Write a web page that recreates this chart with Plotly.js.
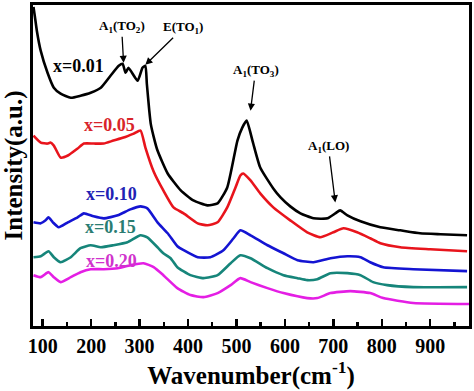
<!DOCTYPE html>
<html>
<head>
<meta charset="utf-8">
<script src="https://cdn.plot.ly/plotly-3.0.1.min.js"></script>
<style>html,body{margin:0;padding:0;background:#fff;}#chart{width:474px;height:391px;}</style>
</head>
<body>
<div id="chart"></div>
<script>
// Raman spectra, intensity in arbitrary units (offset curves)
const seriesNames = ["x=0.01", "x=0.05", "x=0.10", "x=0.15", "x=0.20"];

const wn001  = [81, 84, 88, 96, 110, 123, 137, 158, 178, 199, 220, 240, 257, 265, 271, 277, 296, 306, 312, 315, 320, 323, 329, 337, 358, 385, 411, 440, 461, 481, 502, 512, 521, 533, 549, 576, 591, 611, 632, 659, 688, 704, 714, 729, 756, 797, 838, 879, 921, 976];
const int001 = [320, 310, 296, 276, 254, 239, 233, 229, 231, 234, 239, 251, 261, 263, 254, 259, 246, 259, 261, 243, 216, 203, 190, 176, 153, 136, 126, 121, 123, 139, 186, 199, 206, 186, 159, 138, 129, 120, 113, 108, 108, 113, 116, 111, 105, 99, 96, 93, 92, 91];

const wn005  = [81, 96, 110, 116, 123, 137, 152, 172, 185, 205, 226, 246, 267, 288, 302, 312, 329, 349, 370, 391, 420, 440, 461, 481, 498, 508, 514, 529, 549, 576, 611, 646, 673, 700, 721, 749, 776, 797, 838, 900, 976];
const int005 = [191, 184, 183, 184, 181, 169, 171, 178, 183, 183, 183, 186, 189, 193, 196, 179, 155, 136, 119, 113, 103, 101, 104, 119, 139, 151, 153, 146, 133, 119, 106, 94, 89, 94, 98, 94, 88, 83, 79, 77, 75];

const wn010  = [81, 96, 106, 112, 121, 133, 152, 172, 185, 205, 226, 255, 281, 302, 316, 337, 358, 378, 391, 420, 446, 473, 494, 508, 529, 564, 597, 626, 659, 694, 729, 756, 776, 803, 865, 976];
const int010 = [104, 103, 106, 109, 104, 99, 104, 109, 113, 110, 108, 111, 117, 120, 118, 104, 93, 80, 76, 69, 69, 76, 88, 96, 91, 81, 73, 66, 64, 68, 70, 69, 64, 59, 57, 55];

const wn015  = [81, 96, 112, 123, 137, 158, 178, 199, 220, 246, 275, 302, 316, 337, 349, 364, 378, 405, 432, 461, 488, 508, 529, 564, 597, 626, 646, 667, 694, 729, 756, 782, 811, 865, 976];
const int015 = [69, 70, 75, 69, 64, 69, 78, 81, 79, 81, 84, 91, 89, 79, 73, 68, 59, 51, 48, 51, 63, 71, 68, 58, 51, 48, 46, 47, 53, 53, 51, 44, 41, 39, 39];

const wn020  = [81, 96, 112, 123, 137, 158, 178, 199, 226, 255, 281, 308, 329, 349, 378, 405, 432, 461, 488, 508, 529, 564, 597, 646, 667, 694, 735, 776, 803, 865, 980];
const int020 = [51, 49, 54, 49, 44, 49, 54, 57, 57, 58, 61, 63, 59, 51, 38, 31, 29, 33, 41, 48, 44, 38, 33, 28, 28, 33, 35, 33, 28, 23, 22];

const xTickVals = [100, 200, 300, 400, 500, 600, 700, 800, 900];
const xTickText = ["100", "200", "300", "400", "500", "600", "700", "800", "900"];

const lineColors = ["#000000", "#e8141c", "#1414d2", "#16857a", "#e41ee4"];
const labelColors = ["#000000", "#d8242a", "#2222b4", "#2a7d72", "#d033cc"];

const xs = [wn001, wn005, wn010, wn015, wn020];
const ys = [int001, int005, int010, int015, int020];

const traces = xs.map((x, i) => ({
  x: x, y: ys[i], type: "scatter", mode: "lines", name: seriesNames[i],
  line: {color: lineColors[i], width: 2.6, shape: "spline", smoothing: 0.5},
  hoverinfo: "skip"
}));

const serif = "Liberation Serif, Times New Roman, serif";
const labelPos = [[174, 261], [238, 202], [242, 132], [240, 99], [242, 65]];
const annotations = seriesNames.map((t, i) => ({
  x: labelPos[i][0], y: labelPos[i][1], xref: "x", yref: "y",
  text: "<b>" + t + "</b>", showarrow: false,
  font: {family: serif, size: 18, color: labelColors[i]}
}));

const peaks = [
  {text: "A<sub>1</sub>(TO<sub>2</sub>)", x: 267, y: 264, ax: -2, ay: -36},
  {text: "E(TO<sub>1</sub>)", x: 312, y: 262, ax: 38, ay: -37},
  {text: "A<sub>1</sub>(TO<sub>3</sub>)", x: 529, y: 216, ax: 5, ay: -40},
  {text: "A<sub>1</sub>(LO)", x: 704, y: 124, ax: -7, ay: -56}
];
peaks.forEach(p => annotations.push({
  x: p.x, y: p.y, xref: "x", yref: "y", ax: p.ax, ay: p.ay,
  text: "<b>" + p.text + "</b>", showarrow: true,
  arrowhead: 2, arrowsize: 1.1, arrowwidth: 1.3, arrowcolor: "#000",
  font: {family: serif, size: 13, color: "#000"}
}));

const layout = {
  width: 474, height: 391,
  margin: {l: 33, r: 5, t: 5, b: 65},
  paper_bgcolor: "#fff", plot_bgcolor: "#fff",
  showlegend: false,
  xaxis: {
    range: [80, 980], showgrid: false, zeroline: false,
    showline: true, linewidth: 3, linecolor: "#000", mirror: true,
    ticks: "inside", ticklen: 7, tickwidth: 2.5, tickcolor: "#000",
    tickvals: xTickVals, ticktext: xTickText,
    minor: {dtick: 50, tick0: 50, ticks: "inside", ticklen: 4, tickwidth: 2.5, tickcolor: "#000"},
    tickfont: {family: serif, size: 20, color: "#000", weight: "bold"},
    title: {text: "<b>Wavenumber(cm<sup>-1</sup>)</b>", font: {family: serif, size: 25, color: "#000"}, standoff: 6}
  },
  yaxis: {
    range: [0, 322], showgrid: false, zeroline: false,
    showline: true, linewidth: 3, linecolor: "#000", mirror: true,
    ticks: "", showticklabels: false,
    title: {text: "<b>Intensity(a.u.)</b>", font: {family: serif, size: 25, color: "#000"}, standoff: 2}
  },
  annotations: annotations
};

Plotly.newPlot("chart", traces, layout, {staticPlot: true, displayModeBar: false});
</script>
</body>
</html>
